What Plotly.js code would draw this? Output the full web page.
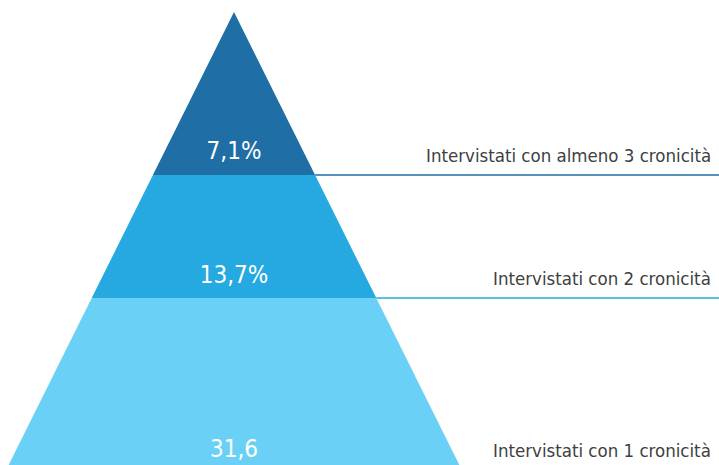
<!DOCTYPE html>
<html>
<head>
<meta charset="utf-8">
<script src="https://cdn.plot.ly/plotly-3.0.1.min.js"></script>
<style>html,body{margin:0;padding:0;background:#fff;}#chart{width:719px;height:465px;}</style>
</head>
<body>
<div id="chart"></div>
<script>
// Data
const levels = ['Intervistati con almeno 3 cronicità', 'Intervistati con 2 cronicità', 'Intervistati con 1 cronicità'];
const values = [7.1, 13.7, 31.6];
const valueLabels = ['7,1%', '13,7%', '31,6'];
const colors = ['#1f6ea6', '#26a9e1', '#6bd0f6'];
const lineColors = ['#1f6ea6', '#26a9e1', null];

// Layout geometry (axis units = pixels)
const apexX = 234, apexY = 12, slope = 0.4975;
const bounds = [12, 175, 298, 480];
const valueY = [153, 277, 451];
const labelY = [155, 278, 450];
const fontFam = '"Liberation Sans Narrow", "DejaVu Sans Condensed", sans-serif';

function halfW(y){ return (y - apexY) * slope; }

const traces = [];
for (let i = 0; i < levels.length; i++) {
  const y0 = bounds[i], y1 = bounds[i+1];
  const w0 = halfW(y0), w1 = halfW(y1);
  traces.push({
    type: 'scatter', mode: 'lines', fill: 'toself', fillcolor: colors[i],
    x: [apexX - w0, apexX + w0, apexX + w1, apexX - w1, apexX - w0],
    y: [y0, y0, y1, y1, y0],
    line: {width: 0, color: colors[i]}, hoverinfo: 'skip', showlegend: false
  });
  if (lineColors[i]) {
    traces.push({
      type: 'scatter', mode: 'lines',
      x: [apexX + w1, 719], y: [y1, y1],
      line: {width: 1.5, color: lineColors[i]}, hoverinfo: 'skip', showlegend: false
    });
  }
  traces.push({
    type: 'scatter', mode: 'text', x: [apexX], y: [valueY[i]], text: [valueLabels[i]],
    textposition: 'middle center',
    textfont: {family: fontFam, size: 24, color: '#ffffff'},
    hoverinfo: 'skip', showlegend: false
  });
}

const annotations = levels.map((t, i) => ({
  x: 713, y: labelY[i], xref: 'x', yref: 'y', text: t, showarrow: false,
  xanchor: 'right', yanchor: 'middle',
  font: {family: fontFam, size: 18.5, color: '#404040'}
}));

const layout = {
  width: 719, height: 465,
  margin: {l: 0, r: 0, t: 0, b: 0},
  paper_bgcolor: '#ffffff', plot_bgcolor: '#ffffff',
  xaxis: {range: [0, 719], visible: false, fixedrange: true},
  yaxis: {range: [465, 0], visible: false, fixedrange: true},
  annotations: annotations,
  showlegend: false
};

Plotly.newPlot('chart', traces, layout, {displayModeBar: false, staticPlot: true});
</script>
</body>
</html>
